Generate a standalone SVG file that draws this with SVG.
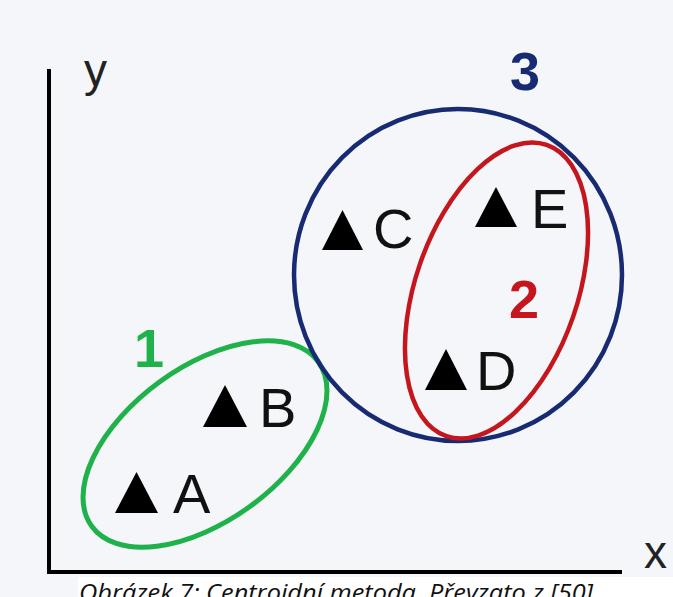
<svg xmlns="http://www.w3.org/2000/svg" width="673" height="597" viewBox="0 0 673 597">
<style>
.lbl{font-family:"Liberation Sans",Arial,sans-serif;font-size:56px;fill:#111}
.num{font-family:"Liberation Sans",Arial,sans-serif;font-size:54px;font-weight:bold}
.ax{font-family:"Liberation Sans",Arial,sans-serif;font-size:46px;fill:#222}
.tri{fill:#000}
.cap{font-family:"Open Sans","Noto Sans",sans-serif;font-size:24px;font-style:italic;fill:#111}
</style>
<rect width="673" height="597" fill="#f4f6fa"/>
<rect x="78" y="577" width="595" height="20" fill="#ffffff"/>
<g id="axes" fill="none" stroke="#000" stroke-width="4" stroke-linecap="square">
<path d="M49 71 L49 572 L620 572"/>
</g>
<text class="ax" x="84" y="86">y</text>
<text class="ax" x="644" y="568">x</text>
<g id="cluster1">
<ellipse cx="205" cy="444" rx="140" ry="77" transform="rotate(-36 205 444)" fill="none" stroke="#1fb24b" stroke-width="5"/>
<text class="num" x="134" y="367" fill="#1fb24b">1</text>
</g>
<g id="cluster3">
<ellipse cx="458" cy="275" rx="164" ry="166" fill="none" stroke="#172a72" stroke-width="4.5"/>
<text class="num" x="510" y="90" fill="#172a72">3</text>
</g>
<g id="cluster2">
<ellipse cx="496.5" cy="290.5" rx="81" ry="154" transform="rotate(19 496.5 290.5)" fill="none" stroke="#c4161c" stroke-width="4.5"/>
<text class="num" x="509" y="318" fill="#c4161c">2</text>
</g>
<g id="A"><polygon class="tri" points="115,513 158,513 136.5,472"/><text class="lbl" x="173" y="513">A</text></g>
<g id="B"><polygon class="tri" points="203,427 247,427 225,385"/><text class="lbl" x="259" y="427">B</text></g>
<g id="C"><polygon class="tri" points="322,250 363,250 342.5,210"/><text class="lbl" x="373" y="248">C</text></g>
<g id="E"><polygon class="tri" points="475,227 517,227 496,187"/><text class="lbl" x="531" y="228">E</text></g>
<g id="D"><polygon class="tri" points="425,390 467,390 446,349"/><text class="lbl" x="476" y="390">D</text></g>
<g id="connectors"></g>
<text class="cap" x="79" y="601" textLength="514" lengthAdjust="spacingAndGlyphs">Obrázek 7: Centroidní metoda. Převzato z [50]</text>
</svg>
